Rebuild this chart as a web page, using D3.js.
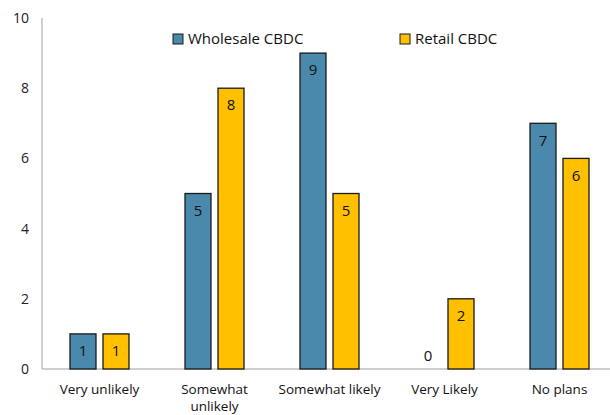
<!DOCTYPE html>
<html><head><meta charset="utf-8">
<script src="https://cdn.jsdelivr.net/npm/d3@7"></script>
<style>body{margin:0;background:#fff}svg{display:block}text{font-family:"Open Sans","Noto Sans",sans-serif;}</style>
</head><body>
<svg id="c" width="610" height="415"></svg>
<script>
const categories = [["Very unlikely"], ["Somewhat", "unlikely"], ["Somewhat likely"], ["Very Likely"], ["No plans"]];
const catKeys = ["Very unlikely", "Somewhat unlikely", "Somewhat likely", "Very Likely", "No plans"];
const seriesNames = ["Wholesale CBDC", "Retail CBDC"];
const wholesale = [1, 5, 9, 0, 7];
const retail = [1, 8, 5, 2, 6];
const yTicks = [0, 2, 4, 6, 8, 10];
const colors = ["#4a89ab", "#ffc000"];

const svg = d3.select("#c");
const x = d3.scaleBand().domain(catKeys).range([42, 617]);
const y = d3.scaleLinear().domain([0, 10]).range([369, 18]);
const barW = 26, gap = 7;
const series = [wholesale, retail];

svg.append("line").attr("x1", 42).attr("x2", 42).attr("y1", y(10)).attr("y2", y(0)).attr("stroke", "#bfbfbf").attr("stroke-width", 1.5);
svg.append("line").attr("x1", 42).attr("x2", 610).attr("y1", y(0)).attr("y2", y(0)).attr("stroke", "#bfbfbf").attr("stroke-width", 1.5);

svg.selectAll(".yt").data(yTicks).enter().append("text")
  .attr("x", 29).attr("y", d => y(d)).attr("dy", "0.35em").attr("text-anchor", "end")
  .attr("font-size", 14).attr("fill", "#222").text(d => d);

series.forEach((vals, si) => {
  const off = si === 0 ? -gap/2 - barW : gap/2;
  const g = svg.append("g");
  vals.forEach((v, i) => {
    const cx = x(catKeys[i]) + x.bandwidth()/2 + off;
    if (v > 0) {
      g.append("rect").attr("x", cx).attr("y", y(v)).attr("width", barW).attr("height", y(0) - y(v))
        .attr("fill", colors[si]).attr("stroke", "#1a1a1a").attr("stroke-width", 1.3);
    }
    g.append("text").attr("x", cx + barW/2).attr("y", v > 0 ? y(v) + 17 : y(0) - 13)
      .attr("dy", "0.35em").attr("text-anchor", "middle").attr("font-size", 15).attr("fill", "#111").text(v);
  });
});

categories.forEach((lines, i) => {
  const t = svg.append("text").attr("x", x(catKeys[i]) + x.bandwidth()/2).attr("y", 394)
    .attr("text-anchor", "middle").attr("font-size", 13.5).attr("fill", "#111");
  lines.forEach((l, j) => t.append("tspan").attr("x", x(catKeys[i]) + x.bandwidth()/2).attr("dy", j === 0 ? 0 : 17).text(l));
});

const legX = [173, 400];
seriesNames.forEach((n, i) => {
  svg.append("rect").attr("x", legX[i]).attr("y", 34).attr("width", 10).attr("height", 10)
    .attr("fill", colors[i]).attr("stroke", "#1a1a1a").attr("stroke-width", 1);
  svg.append("text").attr("x", legX[i] + 15).attr("y", 39).attr("dy", "0.35em")
    .attr("font-size", 15).attr("fill", "#111").text(n);
});
</script>
</body></html>
